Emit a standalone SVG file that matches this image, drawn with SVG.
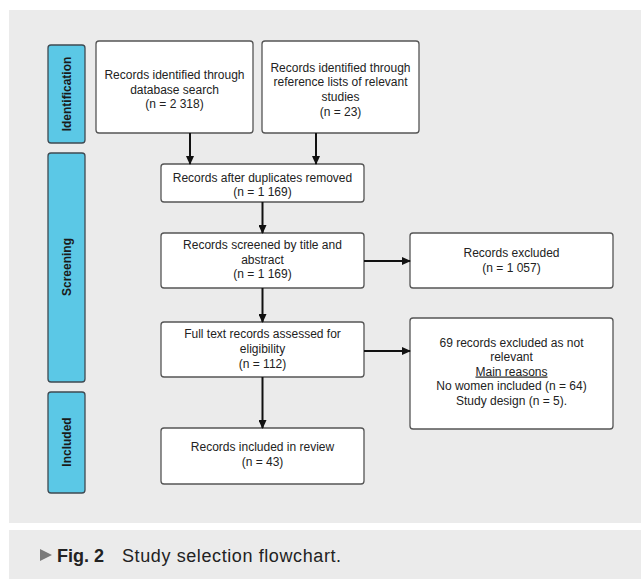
<svg xmlns="http://www.w3.org/2000/svg" width="641" height="579" viewBox="0 0 641 579">
<defs>
<style>
.bg{fill:#ebebeb}
.box{fill:#ffffff;stroke:#555555;stroke-width:1.3}
.side{fill:#5bc8e6;stroke:#3f4a52;stroke-width:1.3}
.t{font-family:"Liberation Sans",Arial,sans-serif;font-size:12px;fill:#222222;text-anchor:middle}
.st{font-family:"Liberation Sans",Arial,sans-serif;font-size:12px;font-weight:bold;fill:#1a1a1a;text-anchor:middle}
.ln{stroke:#111111;stroke-width:2;fill:none;marker-end:url(#ah)}
.cap{font-family:"Liberation Sans",Arial,sans-serif;font-size:18px;fill:#222222}
</style>
<marker id="ah" markerWidth="9" markerHeight="8" refX="8" refY="4" orient="auto" markerUnits="userSpaceOnUse">
<path d="M0,0 L9,4 L0,8 Z" fill="#111111"/>
</marker>
</defs>
<rect class="bg" x="9" y="10" width="632" height="513"/>
<rect class="bg" x="9" y="530" width="632" height="49"/>

<g id="side-identification">
<rect class="side" x="48" y="45" width="37" height="98" rx="3"/>
<text class="st" transform="translate(70.5,94) rotate(-90)">Identification</text>
</g>
<g id="side-screening">
<rect class="side" x="48" y="153" width="37" height="229" rx="3"/>
<text class="st" transform="translate(70.5,267) rotate(-90)">Screening</text>
</g>
<g id="side-included">
<rect class="side" x="48" y="392" width="37" height="101" rx="3"/>
<text class="st" transform="translate(70.5,442) rotate(-90)">Included</text>
</g>

<g id="n-database">
<rect class="box" x="96" y="41" width="157" height="92" rx="3"/>
<text class="t" x="174.5" y="78.5">Records identified through</text>
<text class="t" x="174.5" y="93.5">database search</text>
<text class="t" x="174.5" y="107.5">(n = 2 318)</text>
</g>
<g id="n-reference">
<rect class="box" x="262" y="41" width="157" height="92" rx="3"/>
<text class="t" x="340.5" y="71.5">Records identified through</text>
<text class="t" x="340.5" y="85.5">reference lists of relevant</text>
<text class="t" x="340.5" y="100.5">studies</text>
<text class="t" x="340.5" y="115.5">(n = 23)</text>
</g>
<g id="n-duplicates">
<rect class="box" x="161" y="164" width="203" height="38" rx="3"/>
<text class="t" x="262.5" y="181.5">Records after duplicates removed</text>
<text class="t" x="262.5" y="195.5">(n = 1 169)</text>
</g>
<g id="n-screened">
<rect class="box" x="161" y="233" width="203" height="55" rx="3"/>
<text class="t" x="262.5" y="248.5">Records screened by title and</text>
<text class="t" x="262.5" y="263.5">abstract</text>
<text class="t" x="262.5" y="278">(n = 1 169)</text>
</g>
<g id="n-fulltext">
<rect class="box" x="161" y="322" width="203" height="55" rx="3"/>
<text class="t" x="262.5" y="337.5">Full text records assessed for</text>
<text class="t" x="262.5" y="352.5">eligibility</text>
<text class="t" x="262.5" y="367.5">(n = 112)</text>
</g>
<g id="n-included">
<rect class="box" x="161" y="428" width="203" height="56" rx="3"/>
<text class="t" x="262.5" y="450.5">Records included in review</text>
<text class="t" x="262.5" y="465.5">(n = 43)</text>
</g>
<g id="n-excluded1">
<rect class="box" x="410" y="233" width="203" height="55" rx="3"/>
<text class="t" x="511.5" y="256.5">Records excluded</text>
<text class="t" x="511.5" y="271.5">(n = 1 057)</text>
</g>
<g id="n-excluded2">
<rect class="box" x="410" y="318" width="203" height="111" rx="3"/>
<text class="t" x="511.5" y="346.5">69 records excluded as not</text>
<text class="t" x="511.5" y="360.5">relevant</text>
<text class="t" x="511.5" y="375.5" text-decoration="underline">Main reasons</text>
<text class="t" x="511.5" y="390">No women included (n = 64)</text>
<text class="t" x="511.5" y="404.5">Study design (n = 5).</text>
</g>

<g id="connectors">
<line class="ln" x1="190" y1="133" x2="190" y2="164"/>
<line class="ln" x1="316" y1="133" x2="316" y2="164"/>
<line class="ln" x1="262.5" y1="202" x2="262.5" y2="233"/>
<line class="ln" x1="262.5" y1="288" x2="262.5" y2="322"/>
<line class="ln" x1="262.5" y1="377" x2="262.5" y2="428"/>
<line class="ln" x1="364" y1="261" x2="410" y2="261"/>
<line class="ln" x1="364" y1="351" x2="410" y2="351"/>
</g>

<g id="caption">
<path d="M40,549 L52,555 L40,561 Z" fill="#7a7a7a"/>
<text class="cap" x="57" y="561.5" font-weight="bold" fill="#111111">Fig. 2</text>
<text class="cap" x="122" y="561.5" letter-spacing="0.6">Study selection flowchart.</text>
</g>
</svg>
